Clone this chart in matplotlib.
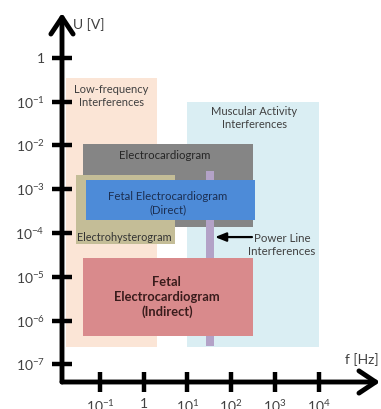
import matplotlib
matplotlib.use("Agg")
import matplotlib.pyplot as plt

plt.rcParams["font.family"] = ["Lato", "DejaVu Sans"]
plt.rcParams["mathtext.fontset"] = "custom"
plt.rcParams["mathtext.rm"] = "Lato"

# Frequency [Hz] and amplitude [V] ranges of each signal / interference band
band_labels = [
    "Low-frequency\nInterferences",
    "Muscular Activity\nInterferences",
    "Electrocardiogram",
    "Electrohysterogram",
    "Power Line\nInterferences",
    "Fetal Electrocardiogram\n(Direct)",
    "Fetal\nElectrocardiogram\n(Indirect)",
]
f_min = [0.017, 10.0, 0.04, 0.028, 27.0, 0.048, 0.041]
f_max = [2.0, 1.0e4, 316.0, 5.2, 41.0, 352.0, 316.0]
u_min = [2.5e-7, 2.5e-7, 1.37e-4, 5.6e-5, 2.6e-7, 2.0e-4, 4.5e-7]
u_max = [0.35, 0.1, 0.011, 2.1e-3, 2.6e-3, 1.6e-3, 2.7e-5]

# Axis ticks
f_ticks = [0.1, 1, 10, 100, 1000, 10000]
f_tick_labels = [r"$\mathregular{10^{-1}}$", "1", r"$\mathregular{10^{1}}$",
                 r"$\mathregular{10^{2}}$", r"$\mathregular{10^{3}}$",
                 r"$\mathregular{10^{4}}$"]
u_ticks = [1, 1e-1, 1e-2, 1e-3, 1e-4, 1e-5, 1e-6, 1e-7]
u_tick_labels = ["1"] + [r"$\mathregular{10^{-%d}}$" % k for k in range(1, 8)]

# Styling
fills = ["#fbe5d6", "#daeef3", "#858585", "#c4bd97", "#b3a2c7", "#4d8bd8", "#d98a8c"]
text_colors = ["#404040", "#404040", "#262626", "#333333", "#404040", "#1c2f52", "#3a1c1c"]
text_weights = ["normal"] * 6 + ["bold"]
text_sizes = [8.0, 8.0, 8.2, 7.8, 8.3, 8.2, 9.3]
text_pos = [(0.18, 0.134), (334, 0.042), (3.07, 6.0e-3), (0.0298, 8.1e-5),
            (1459, 5.3e-5), (3.6, 4.8e-4), (3.4, 3.46e-6)]
text_ha = ["center", "center", "center", "left", "center", "center", "center"]

W, H = 381, 409
fig = plt.figure(figsize=(W / 100, H / 100), dpi=100)
ax = fig.add_axes([62 / W, 27 / H, (W - 62) / W, 382 / H])
ax.set_xscale("log")
ax.set_yscale("log")
ax.set_xlim(10 ** -1.869, 10 ** 5.429)
ax.set_ylim(10 ** -7.40, 10 ** 1.320)
ax.patch.set_alpha(0)
for s in ax.spines.values():
    s.set_visible(False)

for i in range(len(band_labels)):
    ax.fill_between([f_min[i], f_max[i]], u_min[i], u_max[i],
                    color=fills[i], lw=0, zorder=1 + i)
    ax.text(*text_pos[i], band_labels[i], ha=text_ha[i], va="center",
            fontsize=text_sizes[i], color=text_colors[i],
            fontweight=text_weights[i], linespacing=1.25, zorder=20)

# Pointer to the power-line band
ax.annotate("", xy=(42.8, 8.1e-5), xytext=(300, 8.1e-5),
            arrowprops=dict(arrowstyle="-|>,head_length=0.55,head_width=0.22",
                            color="black", lw=1.6, shrinkA=0, shrinkB=0,
                            mutation_scale=12), zorder=21)

# Axes with arrow heads
arrow = dict(arrowstyle="->,head_length=0.6,head_width=0.4", color="black",
             lw=3.5, shrinkA=0, shrinkB=0, mutation_scale=20)
ax.annotate("", xy=(0, (382 - 13) / 382), xytext=(0, 0), xycoords="axes fraction",
            arrowprops=arrow, annotation_clip=False, zorder=30)
ax.annotate("", xy=((380 - 62) / (W - 62), 0), xytext=(0, 0), xycoords="axes fraction",
            arrowprops=arrow, annotation_clip=False, zorder=30)

ax.set_xticks(f_ticks)
ax.set_xticklabels(f_tick_labels)
ax.set_yticks(u_ticks)
ax.set_yticklabels(u_tick_labels)
ax.minorticks_off()
ax.tick_params(direction="inout", length=15, width=3.2, colors="black",
               labelcolor="#404040", labelsize=10)
ax.tick_params(axis="y", pad=5)
ax.tick_params(axis="x", pad=4)

ax.text(0.0241, 5.6, "U [V]", ha="left", va="center", fontsize=10, color="#404040")
ax.text(4.0e4, 1.27e-7, "f [Hz]", ha="left", va="center", fontsize=10,
        color="#404040", clip_on=False)

fig.savefig("out.png", dpi=100)
